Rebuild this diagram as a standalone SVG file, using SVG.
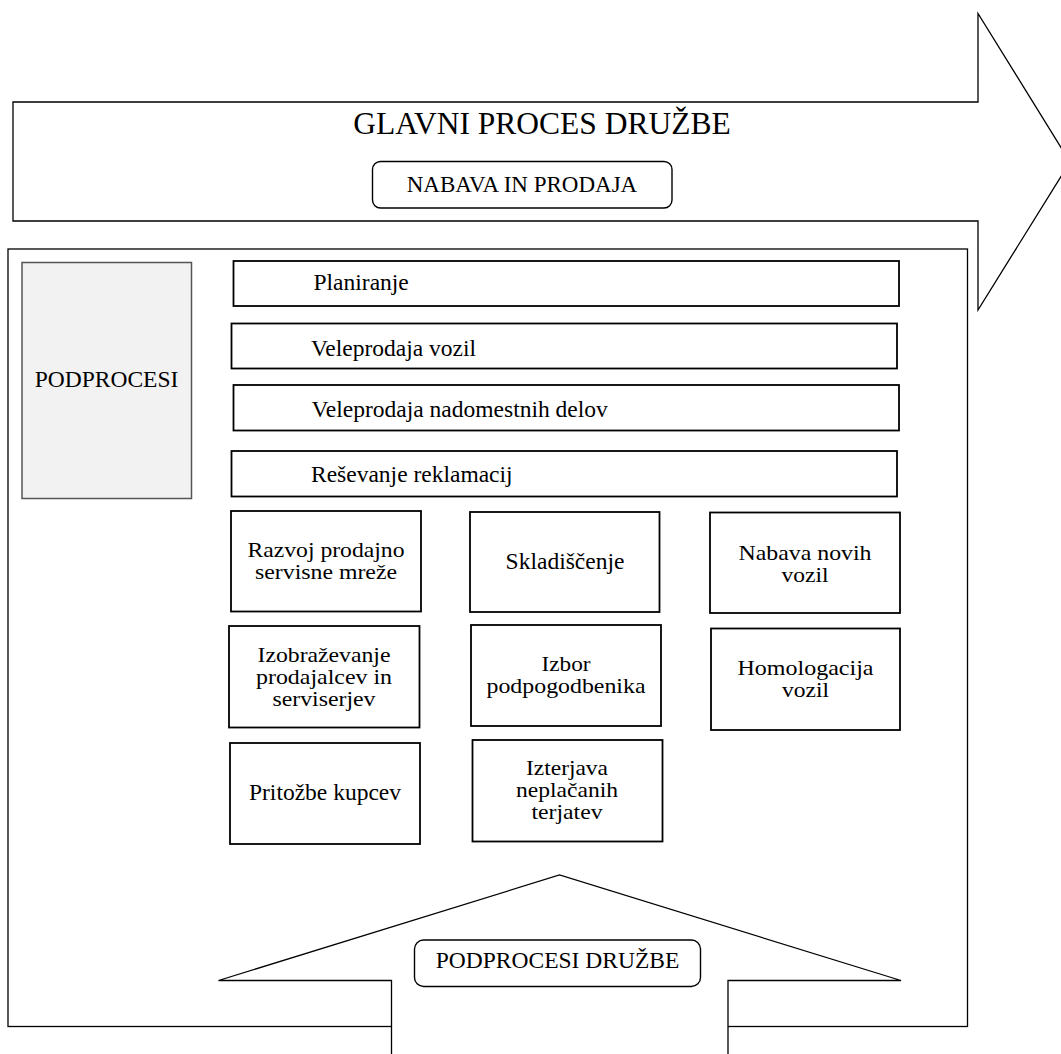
<svg xmlns="http://www.w3.org/2000/svg" width="1061" height="1054" viewBox="0 0 1061 1054">
<style>
text{font-family:"Liberation Serif","Times New Roman",serif;fill:#000;}
.t{font-size:23.5px;}
.g{font-size:21.5px;}
.c{text-anchor:middle;}
.box{fill:#fff;stroke:#000;stroke-width:1.8;}
.arrow{fill:#fff;stroke:#000;stroke-width:1.3;stroke-linejoin:miter;}
.rbox{fill:#fff;stroke:#000;stroke-width:1.4;}
</style>
<rect width="1061" height="1054" fill="#fff"/>
<g id="connectors">
<polygon id="main-arrow" class="arrow" points="13,102 978,102 978,13.5 1070,162 978,310 978,221 13,221"/>
<rect id="container" x="8" y="249" width="959.5" height="777.5" fill="none" stroke="#000" stroke-width="1.3"/>
<polygon id="up-arrow" class="arrow" points="391.5,1062 391.5,980.5 218.5,980.5 559.5,875 901,980.5 728,980.5 728,1062"/>
</g>
<g id="glavni-proces"><text class="c" x="542" y="134" style="font-size:31.5px">GLAVNI PROCES DRUŽBE</text></g>
<g id="nabava-in-prodaja"><rect class="rbox" x="372.5" y="161.5" width="299.5" height="46.5" rx="8"/><text class="t c" x="522" y="192" style="font-size:23px">NABAVA IN PRODAJA</text></g>
<g id="podprocesi"><rect x="22" y="262.5" width="169.5" height="236" fill="#f2f2f2" stroke="#555" stroke-width="1.5"/><text class="t c" x="106.5" y="387">PODPROCESI</text></g>
<g id="planiranje"><rect class="box" x="233.5" y="261" width="665.5" height="45"/><text class="t" x="313.5" y="290">Planiranje</text></g>
<g id="veleprodaja-vozil"><rect class="box" x="231.5" y="323.5" width="665.5" height="45"/><text class="t" x="311" y="356">Veleprodaja vozil</text></g>
<g id="veleprodaja-delov"><rect class="box" x="233.5" y="385" width="665.5" height="45.5"/><text class="t" x="311.5" y="417">Veleprodaja nadomestnih delov</text></g>
<g id="resevanje-reklamacij"><rect class="box" x="231.5" y="451" width="665.5" height="45.5"/><text class="t" x="311" y="482">Reševanje reklamacij</text></g>
<g id="razvoj"><rect class="box" x="231" y="511" width="190" height="100.5"/><text class="g c" x="326" y="557" textLength="157" lengthAdjust="spacingAndGlyphs">Razvoj prodajno</text><text class="g c" x="326" y="579" textLength="142" lengthAdjust="spacingAndGlyphs">servisne mreže</text></g>
<g id="skladiscenje"><rect class="box" x="470" y="512" width="189.5" height="100"/><text class="t c" x="565" y="568.5">Skladiščenje</text></g>
<g id="nabava-novih"><rect class="box" x="710" y="512.5" width="190" height="100.5"/><text class="g c" x="805" y="559.5" textLength="133" lengthAdjust="spacingAndGlyphs">Nabava novih</text><text class="g c" x="805" y="581.5" textLength="47" lengthAdjust="spacingAndGlyphs">vozil</text></g>
<g id="izobrazevanje"><rect class="box" x="229" y="626" width="190.5" height="101.5"/><text class="g c" x="324" y="661.5" textLength="133" lengthAdjust="spacingAndGlyphs">Izobraževanje</text><text class="g c" x="324" y="683.5" textLength="136" lengthAdjust="spacingAndGlyphs">prodajalcev in</text><text class="g c" x="324" y="705.5" textLength="103" lengthAdjust="spacingAndGlyphs">serviserjev</text></g>
<g id="izbor"><rect class="box" x="471" y="625" width="190" height="101"/><text class="g c" x="566" y="670.5" textLength="49" lengthAdjust="spacingAndGlyphs">Izbor</text><text class="g c" x="566" y="692.5" textLength="159" lengthAdjust="spacingAndGlyphs">podpogodbenika</text></g>
<g id="homologacija"><rect class="box" x="711" y="628.5" width="189" height="101.5"/><text class="g c" x="805.5" y="674.5" textLength="136" lengthAdjust="spacingAndGlyphs">Homologacija</text><text class="g c" x="805.5" y="696.5" textLength="47" lengthAdjust="spacingAndGlyphs">vozil</text></g>
<g id="pritozbe"><rect class="box" x="230" y="743" width="190" height="101"/><text class="t c" x="325" y="799.5">Pritožbe kupcev</text></g>
<g id="izterjava"><rect class="box" x="472.5" y="740" width="190" height="101.5"/><text class="g c" x="567" y="775" textLength="82" lengthAdjust="spacingAndGlyphs">Izterjava</text><text class="g c" x="567" y="797" textLength="102" lengthAdjust="spacingAndGlyphs">neplačanih</text><text class="g c" x="567" y="819" textLength="71" lengthAdjust="spacingAndGlyphs">terjatev</text></g>
<g id="podprocesi-druzbe"><rect class="rbox" x="414.5" y="940" width="286" height="46.5" rx="9"/><text class="t c" x="557.5" y="967.5">PODPROCESI DRUŽBE</text></g>
</svg>
